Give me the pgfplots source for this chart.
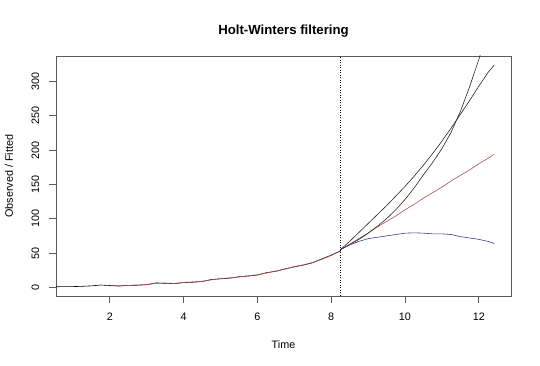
\documentclass[border=0pt]{standalone}
\usepackage{pgfplots}
\pgfplotsset{compat=1.18}
\usepackage{fontspec}
\setmainfont{Liberation Sans}
\definecolor{fitred}{RGB}{178,80,80}
\definecolor{predblue}{RGB}{60,60,140}
\definecolor{boxgray}{RGB}{90,90,90}
\begin{document}
\begin{tikzpicture}
\begin{axis}[
  at={(56pt,70pt)}, anchor=south west,
  scale only axis, width=455pt, height=240pt,
  xmin=0.543, xmax=12.873, ymin=-12.5, ymax=337,
  xtick={2,4,6,8,10,12}, ytick={0,50,100,150,200,250,300},
  xtick pos=bottom, ytick pos=left,
  tick align=outside, major tick length=7pt,
  axis line style={boxgray, line width=0.8pt},
  every tick/.style={boxgray, line width=0.8pt},
  /pgf/number format/assume math mode=true,
  tick label style={font=\fontsize{10.8}{13}\selectfont},
  xticklabel style={anchor=base, yshift=-17.7pt},
  yticklabel style={rotate=90, anchor=base, yshift=10pt},
  title={\textbf{Holt-Winters filtering}},
  title style={at={(axis description cs:0.5,1)}, anchor=base, yshift=15pt, font=\fontsize{13.2}{16}\selectfont},
  xlabel={Time},
  xlabel style={at={(axis description cs:0.5,0)}, anchor=base, yshift=-53pt, font=\fontsize{10.8}{13}\selectfont},
  ylabel={Observed / Fitted},
  ylabel style={at={(axis description cs:0,0.5)}, anchor=base, rotate=0, yshift=43pt, font=\fontsize{10.8}{13}\selectfont},
  clip=true,
]
% observed
\addplot[black, line width=0.6pt] coordinates {
(0.55,1.0) (1.0,1.2) (1.25,1.6) (1.5,2.2) (1.75,3.5) (2.0,2.8) (2.25,2.0) (2.5,3.0) (2.75,3.2)
(3.0,4.0) (3.25,6.5) (3.5,6.0) (3.75,5.5) (4.0,7.0) (4.25,7.5) (4.5,8.5) (4.75,11.5)
(5.0,12.5) (5.25,13.5) (5.5,15.5) (5.75,16.5) (6.0,18.0) (6.25,21.5) (6.5,23.5) (6.75,27.0)
(7.0,30.0) (7.25,32.5) (7.5,36.0) (7.75,41.5) (8.0,47.0) (8.25,53.0)};
% fitted
\addplot[fitred, line width=0.6pt] coordinates {
(2.0,2.5) (2.25,2.3) (2.5,2.8) (2.75,3.4) (3.0,4.3) (3.25,6.0) (3.5,6.4) (3.75,5.8)
(4.0,7.3) (4.25,7.9) (4.5,8.9) (4.75,11.0) (5.0,12.8) (5.25,13.9) (5.5,15.2) (5.75,16.9)
(6.0,18.4) (6.25,21.0) (6.5,23.9) (6.75,26.6) (7.0,30.3) (7.25,32.9) (7.5,36.4) (7.75,41.0)
(8.0,46.5) (8.25,53.5)};
% forecast (red)
\addplot[fitred, line width=0.6pt] coordinates {
(8.25,55) (8.5,63) (8.75,71) (9.0,79) (9.25,88) (9.5,96) (9.75,104) (10.0,113)
(10.25,121) (10.5,130) (10.75,138) (11.0,146) (11.25,155) (11.5,163) (11.75,171)
(12.0,180) (12.25,188) (12.42,194)};
% upper line B
\addplot[black!85, line width=0.6pt] coordinates {
(8.25,55) (8.5,67) (8.75,80) (9.0,93) (9.25,106) (9.5,119) (9.75,133) (10.0,147)
(10.25,162) (10.5,178) (10.75,195) (11.0,213) (11.25,232) (11.5,252) (11.75,272)
(12.0,293) (12.25,313) (12.42,324)};
% steep line A
\addplot[black!85, line width=0.6pt] coordinates {
(8.25,55) (8.5,62) (8.75,70) (9.0,79) (9.25,89) (9.5,100) (9.75,113) (10.0,128)
(10.25,145) (10.5,164) (10.75,182) (11.0,202) (11.25,226) (11.5,256) (11.75,292)
(12.0,332) (12.25,375) (12.42,406)};
% lower blue
\addplot[predblue, line width=0.6pt] coordinates {
(8.25,55) (8.5,62) (8.75,67) (9.0,71) (9.25,73) (9.5,75) (9.75,77) (10.0,79)
(10.25,79.5) (10.5,79) (10.75,78) (11.0,78) (11.25,77) (11.5,74) (11.75,72)
(12.0,70) (12.25,67) (12.42,64)};
% vertical dotted line
\addplot[black, line width=0.6pt, dash pattern=on 1pt off 1.5pt] coordinates {(8.25,-12.5) (8.25,337)};
\end{axis}
\pgfresetboundingbox
\path[use as bounding box] (0,0) rectangle (540pt,366pt);
\end{tikzpicture}
\end{document}
